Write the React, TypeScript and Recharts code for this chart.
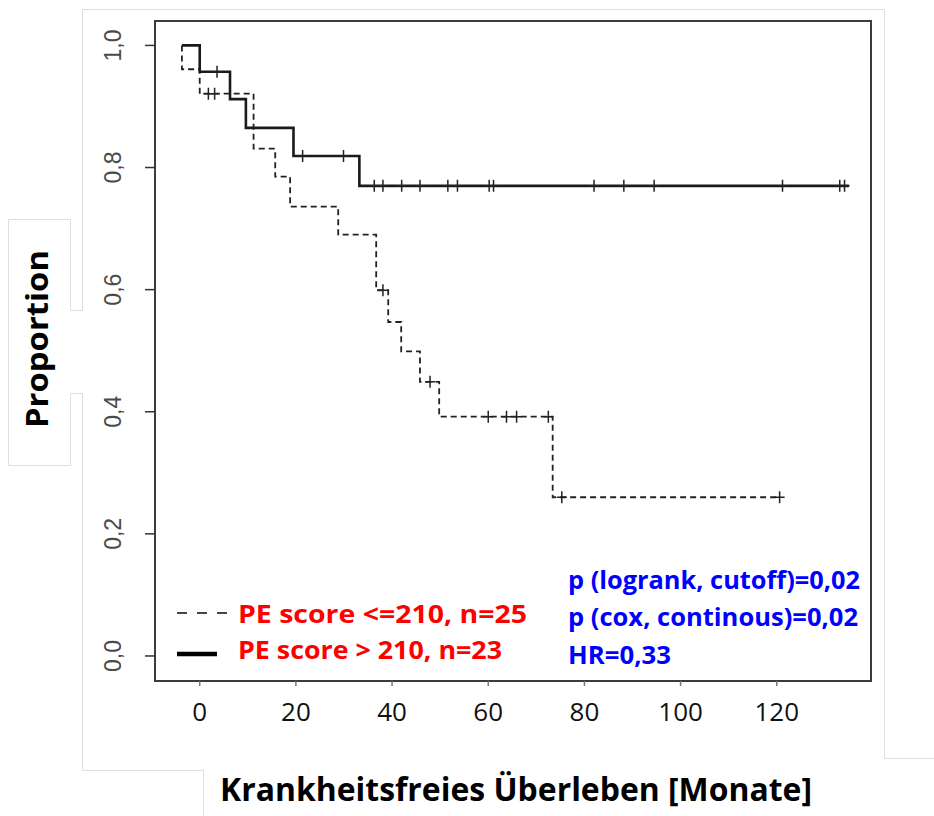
import React from 'react';
import { ComposedChart, Line, Scatter, XAxis, YAxis, ReferenceArea } from 'recharts';

// Kaplan-Meier step points (time in months, survival proportion)
const dashTimes = [-3.7, -3.7, 0, 11.2, 15.7, 18.8, 28.8, 36.7, 39.2, 41.9, 45.8, 49.8, 73.4, 120.6];
const dashSurv = [1, 0.961, 0.921, 0.831, 0.785, 0.736, 0.69, 0.599, 0.547, 0.499, 0.449, 0.392, 0.26, 0.26];
const dashCensor = [1.8, 3.1, 38.1, 47.9, 60.0, 63.8, 65.9, 72.5, 75.3, 120.6];

const solidTimes = [-3.7, 0, 6.3, 9.6, 19.5, 33.2, 135];
const solidSurv = [1, 0.957, 0.912, 0.865, 0.819, 0.77, 0.77];
const solidCensor = [3.6, 21.4, 29.9, 36.3, 38.1, 42.0, 45.8, 51.6, 53.6, 60.2, 61.1, 82.0, 88.2, 94.5, 121.2, 133.1, 134.1];

const xTicks = [0, 20, 40, 60, 80, 100, 120];
const yTicks = [0, 0.2, 0.4, 0.6, 0.8, 1.0];
const xDomain = [-9.3, 139.6];
const yDomain = [-0.041, 1.04];

const legendLabels = ['PE score <=210, n=25', 'PE score > 210, n=23'];
const statLabels = ['p (logrank, cutoff)=0,02', 'p (cox, continous)=0,02', 'HR=0,33'];

const toPoints = (times: number[], surv: number[]) => times.map((t, i) => ({ t, s: surv[i] }));

// survival level of a step curve at time t (for placing censor marks)
const levelAt = (times: number[], surv: number[], t: number) => {
  let s = surv[0];
  times.forEach((tt, i) => {
    if (tt <= t) s = surv[i];
  });
  return s;
};

const dashData = toPoints(dashTimes, dashSurv);
const solidData = toPoints(solidTimes, solidSurv);
const dashCensorData = dashCensor.map((t) => ({ t, s: levelAt(dashTimes, dashSurv, t) }));
const solidCensorData = solidCensor.map((t) => ({ t, s: levelAt(solidTimes, solidSurv, t) }));

const Plus = (props: any) => {
  const { cx, cy } = props;
  return (
    <path
      d={`M${cx - 5},${cy}H${cx + 5}M${cx},${cy - 6}V${cy + 6}`}
      stroke="#222"
      strokeWidth={1.5}
      fill="none"
    />
  );
};

const XTick = (props: any) => {
  const { x, y, payload } = props;
  return (
    <text x={x} y={y + 33} textAnchor="middle" fontFamily="'Open Sans', sans-serif" fontSize={26} fill="#111">
      {payload.value}
    </text>
  );
};

const YTick = (props: any) => {
  const { x, y, payload } = props;
  const bx = x - 22;
  return (
    <text
      x={bx}
      y={y}
      transform={`rotate(-90, ${bx}, ${y})`}
      textAnchor="middle"
      fontFamily="'Liberation Sans', Arial, sans-serif"
      fontSize={23}
      fill="#4a4a4a"
    >
      {payload.value.toFixed(1).replace('.', ',')}
    </text>
  );
};

const font = "'Open Sans', sans-serif";

export default function App() {
  return (
    <div style={{ position: 'absolute', left: 0, top: 0, width: 934, height: 816, background: '#fff' }}>
      <ComposedChart width={934} height={816} margin={{ top: 21, right: 63, bottom: 0, left: 0 }}>
        <XAxis
          type="number"
          dataKey="t"
          domain={xDomain}
          ticks={xTicks}
          allowDataOverflow
          axisLine={false}
          tickLine={{ stroke: '#777', strokeWidth: 1.5 }}
          tickSize={5}
          height={135}
          tick={<XTick />}
        />
        <YAxis
          type="number"
          domain={yDomain}
          ticks={yTicks}
          allowDataOverflow
          axisLine={false}
          tickLine={{ stroke: '#333', strokeWidth: 1.5 }}
          tickSize={10}
          width={155}
          tick={<YTick />}
        />
        <ReferenceArea
          x1={xDomain[0]}
          x2={xDomain[1]}
          y1={yDomain[0]}
          y2={yDomain[1]}
          fill="none"
          stroke="#3c3c3c"
          strokeWidth={2}
          ifOverflow="visible"
        />
        <Line
          data={dashData}
          dataKey="s"
          type="stepAfter"
          stroke="#222"
          strokeWidth={1.8}
          strokeDasharray="6 4"
          dot={false}
          isAnimationActive={false}
        />
        <Line
          data={solidData}
          dataKey="s"
          type="stepAfter"
          stroke="#1a1a1a"
          strokeWidth={2.6}
          dot={false}
          isAnimationActive={false}
        />
        <Scatter data={dashCensorData} dataKey="s" shape={<Plus />} isAnimationActive={false} />
        <Scatter data={solidCensorData} dataKey="s" shape={<Plus />} isAnimationActive={false} />
      </ComposedChart>

      <svg width={934} height={816} style={{ position: 'absolute', left: 0, top: 0, pointerEvents: 'none' }}>
        {/* faint frames from the original screenshot */}
        <g stroke="#dedede" strokeWidth={1} fill="none">
          <path d="M82.5,9.5H884.5V758.5H934" />
          <path d="M82.5,9.5V310.5H70.5V219.5H8.5V465.5H70.5V393.5H82.5V770.5H203.5V816" />
        </g>

        {/* legend */}
        <line x1={177} y1={613} x2={227} y2={613} stroke="#444" strokeWidth={2} strokeDasharray="10 10" />
        <line x1={177} y1={654} x2={217} y2={654} stroke="#000" strokeWidth={4.5} />
        <text x={238} y={623} fontFamily={font} fontWeight={700} fontSize={24.5} fill="#ff0000" textLength={289} lengthAdjust="spacingAndGlyphs">
          {legendLabels[0]}
        </text>
        <text x={238} y={659} fontFamily={font} fontWeight={700} fontSize={24.5} fill="#ff0000" textLength={264} lengthAdjust="spacingAndGlyphs">
          {legendLabels[1]}
        </text>

        {/* statistics */}
        <text x={568} y={589} fontFamily={font} fontWeight={700} fontSize={24.5} fill="#0000ff" textLength={292} lengthAdjust="spacingAndGlyphs">
          {statLabels[0]}
        </text>
        <text x={568} y={626} fontFamily={font} fontWeight={700} fontSize={24.5} fill="#0000ff" textLength={290} lengthAdjust="spacingAndGlyphs">
          {statLabels[1]}
        </text>
        <text x={568} y={664} fontFamily={font} fontWeight={700} fontSize={24.5} fill="#0000ff" textLength={103} lengthAdjust="spacingAndGlyphs">
          {statLabels[2]}
        </text>

        {/* axis titles */}
        <text x={220} y={801} fontFamily={font} fontWeight={700} fontSize={33} fill="#000" textLength={592} lengthAdjust="spacingAndGlyphs">
          Krankheitsfreies Überleben [Monate]
        </text>
        <text
          x={48}
          y={339}
          transform="rotate(-90, 48, 339)"
          textAnchor="middle"
          fontFamily={font}
          fontWeight={700}
          fontSize={30}
          fill="#000"
          textLength={178}
          lengthAdjust="spacingAndGlyphs"
        >
          Proportion
        </text>
      </svg>
    </div>
  );
}
